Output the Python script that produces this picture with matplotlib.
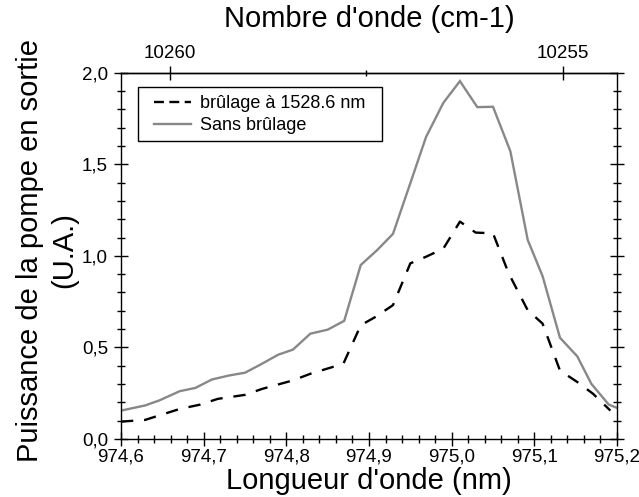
import numpy as np
import matplotlib
matplotlib.use("Agg")
import matplotlib.pyplot as plt
from matplotlib.ticker import FixedLocator, MultipleLocator, FuncFormatter
from matplotlib.lines import Line2D
from matplotlib.patches import Rectangle

plt.rcParams['font.family'] = ['Liberation Sans', 'DejaVu Sans']

# ---- data ----
wl_sans = [974.600, 974.629, 974.646, 974.671, 974.690, 974.710, 974.731, 974.750,
           974.769, 974.790, 974.808, 974.829, 974.850, 974.870, 974.890, 974.910,
           974.929, 974.950, 974.969, 974.990, 975.010, 975.031, 975.050, 975.071,
           975.092, 975.110, 975.131, 975.152, 975.169, 975.190, 975.200]
p_sans = [0.155, 0.183, 0.210, 0.261, 0.279, 0.325, 0.347, 0.362,
          0.407, 0.460, 0.488, 0.575, 0.597, 0.645, 0.950, 1.032,
          1.120, 1.397, 1.649, 1.836, 1.954, 1.812, 1.814, 1.571,
          1.087, 0.889, 0.553, 0.451, 0.301, 0.188, 0.170]

wl_brul = [974.600, 974.629, 974.671, 974.696, 974.717, 974.750, 974.771, 974.808,
           974.829, 974.869, 974.890, 974.908, 974.929, 974.950, 974.969, 974.990,
           975.010, 975.029, 975.050, 975.069, 975.092, 975.110, 975.131, 975.152,
           975.171, 975.192]
p_brul = [0.095, 0.104, 0.164, 0.188, 0.219, 0.241, 0.274, 0.320,
          0.356, 0.411, 0.621, 0.667, 0.731, 0.959, 0.995, 1.040,
          1.187, 1.127, 1.123, 0.904, 0.703, 0.630, 0.374, 0.311,
          0.247, 0.155]

label_brul = "brûlage à 1528.6 nm"
label_sans = "Sans brûlage"
xlabel = "Longueur d'onde (nm)"
ylabel = "Puissance de la pompe en sortie\n(U.A.)"
toplabel = "Nombre d'onde (cm-1)"
top_major = [10255, 10260]
top_minor = [10257.5]

W, H = 639, 497
fig = plt.figure(figsize=(W / 100, H / 100), dpi=100)
L, R, T, B = 121, 617, 72.7, 439
ax = fig.add_axes([L / W, (H - B) / H, (R - L) / W, (B - T) / H])

gray = '#888888'
ax.plot(wl_sans, p_sans, color=gray, lw=1.7, solid_joinstyle='miter')
ax.plot(wl_brul, p_brul, color='black', lw=1.7, linestyle=(0, (5.2, 4.6)))

ax.set_xlim(974.6, 975.2)
ax.set_ylim(0.0, 2.0)
ax.xaxis.set_major_locator(MultipleLocator(0.1))
ax.xaxis.set_minor_locator(MultipleLocator(0.02))
ax.yaxis.set_major_locator(MultipleLocator(0.5))
ax.yaxis.set_minor_locator(MultipleLocator(0.1))
fmt = FuncFormatter(lambda v, p: f"{v:.1f}".replace('.', ','))
ax.xaxis.set_major_formatter(fmt)
ax.yaxis.set_major_formatter(fmt)

for s in ax.spines.values():
    s.set_linewidth(1.0)
ax.tick_params(which='both', direction='inout', top=False, right=True,
               left=True, bottom=True, width=1.0, labelsize=13.5)
ax.tick_params(which='major', length=10)
ax.tick_params(which='minor', length=5.8)
ax.tick_params(axis='x', which='major', pad=1.5)
ax.tick_params(axis='y', which='major', pad=4.3)

with np.errstate(divide='ignore'):
    secax = ax.secondary_xaxis('top', functions=(lambda x: 1e7 / x, lambda x: 1e7 / x))
secax.xaxis.set_major_locator(FixedLocator(top_major))
secax.xaxis.set_minor_locator(FixedLocator(top_minor))
secax.xaxis.set_major_formatter(FuncFormatter(lambda v, p: f"{v:.0f}"))
secax.tick_params(which='both', direction='inout', width=1.0, labelsize=13.5)
secax.tick_params(which='major', length=9.6, pad=2.7)
secax.tick_params(which='minor', length=5)
secax.spines['top'].set_linewidth(1.0)

fig.text((L + R) / 2 / W, (H - 489) / H, xlabel, ha='center', va='baseline', fontsize=21)
fig.text((L + R) / 2 / W, (H - 27) / H, toplabel, ha='center', va='baseline', fontsize=21)
fig.text(47 / W, (H - 250) / H, ylabel, ha='center', va='center', rotation=90,
         multialignment='center', fontsize=21, linespacing=1.3)

handles = [Line2D([], [], color='black', lw=1.7, linestyle=(0, (4.2, 2.3))),
           Line2D([], [], color=gray, lw=1.7)]
leg = fig.legend(handles, [label_brul, label_sans], loc='upper left',
                 bbox_to_anchor=(153.8 / W, 1 - 95 / H), frameon=False,
                 borderpad=0, borderaxespad=0, handlelength=2.05,
                 handletextpad=0.5, labelspacing=0.3, fontsize=13)
fig.patches.append(Rectangle((138 / W, 1 - 140.5 / H), (382 - 138) / W, (140.5 - 86.7) / H,
                             transform=fig.transFigure, fill=False, edgecolor='black',
                             lw=1.0, figure=fig))

fig.savefig('out.png', dpi=100)
